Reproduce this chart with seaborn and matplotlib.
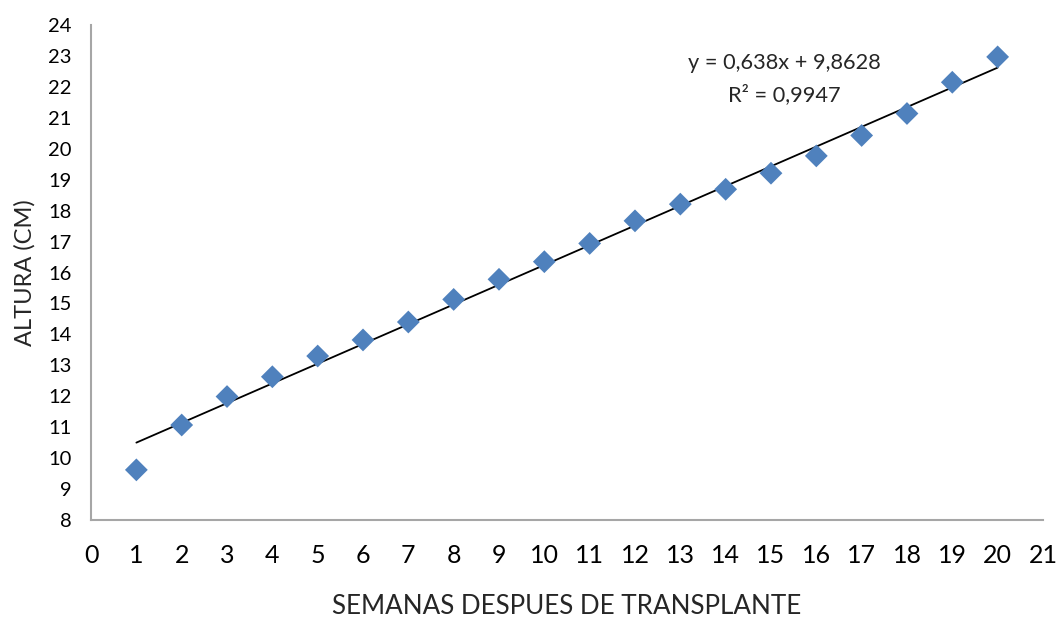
import numpy as np
import pandas as pd
import matplotlib
matplotlib.use("Agg")
import matplotlib.pyplot as plt
import seaborn as sns

# Weekly mean plant height after transplanting
semanas = list(range(1, 21))
altura_cm = [9.62, 11.07, 11.99, 12.63, 13.30, 13.82, 14.40, 15.13, 15.78, 16.35,
             16.94, 17.67, 18.21, 18.69, 19.21, 19.77, 20.43, 21.14, 22.15, 22.97]

# Linear trend reported for the series
pendiente = 0.638
intercepto = 9.8628
r2 = 0.9947

x_ticks = list(range(0, 22))
y_ticks = list(range(8, 25))

sns.set_theme(style="white")
plt.rcParams["font.family"] = ["Lato", "DejaVu Sans"]

df = pd.DataFrame({"semana": semanas, "altura": altura_cm})
tendencia = pd.DataFrame({"semana": [semanas[0], semanas[-1]]})
tendencia["altura"] = pendiente * tendencia["semana"] + intercepto

fig = plt.figure(figsize=(10.61, 6.18), dpi=100)
ax = fig.add_axes([0.0858, 0.1586, 0.8972, 0.8009])

sns.lineplot(data=tendencia, x="semana", y="altura", ax=ax, color="black",
             linewidth=1.3, zorder=2)
sns.scatterplot(data=df, x="semana", y="altura", ax=ax, marker="D", s=135,
                color="#4F81BD", edgecolor="none", zorder=3)

ax.set_xlim(0, 21)
ax.set_ylim(8, 24)
ax.set_xticks(x_ticks)
ax.set_yticks(y_ticks)
ax.tick_params(axis="both", length=0, colors="black")
ax.tick_params(axis="x", labelsize=18, pad=17)
ax.tick_params(axis="y", labelsize=14.5, pad=14)

for side in ("top", "right"):
    ax.spines[side].set_visible(False)
for side in ("left", "bottom"):
    ax.spines[side].set_color("#A6A6A6")
    ax.spines[side].set_linewidth(1.5)

ax.set_xlabel("SEMANAS DESPUES DE TRANSPLANTE", fontsize=18.7, labelpad=20)
ax.set_ylabel("ALTURA (CM)", fontsize=17, labelpad=9)

ax.text(15.29, 22.77, f"y = {pendiente:.3f}x + {intercepto:.4f}".replace(".", ","),
        ha="center", va="center", fontsize=15.7)
ax.text(15.29, 21.74, f"R² = {r2:.4f}".replace(".", ","),
        ha="center", va="center", fontsize=15.7)

fig.savefig("out.png", dpi=100, facecolor="white")
